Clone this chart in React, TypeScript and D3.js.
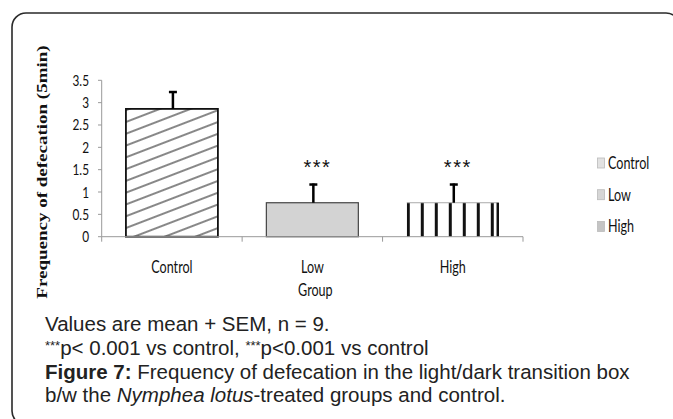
import React, { useEffect, useRef } from "react";
import * as d3 from "d3";

const categories = ["Control", "Low", "High"];
const means = [2.86, 0.76, 0.76];
const sems = [0.4, 0.43, 0.43];
const stars = ["", "***", "***"];
const yTicks = [0, 0.5, 1, 1.5, 2, 2.5, 3, 3.5];
const legendItems = ["Control", "Low", "High"];

const W = 673;
const H = 419;
const chartFont = "Lato, 'Liberation Sans', sans-serif";
const capFont = "'Liberation Sans', Arial, sans-serif";
const squish = 0.74;

const App = () => {
  const ref = useRef<SVGSVGElement>(null);

  useEffect(() => {
    const svg = d3.select(ref.current);
    svg.selectAll("*").remove();

    const x = d3
      .scaleBand()
      .domain(categories)
      .range([101.7, 523])
      .paddingInner(0.345)
      .paddingOuter(0.1725);
    const y = d3.scaleLinear().domain([0, 3.5]).range([236.7, 80.3]);
    const step = x.step();

    const defs = svg.append("defs");
    defs
      .append("pattern")
      .attr("id", "diag")
      .attr("patternUnits", "userSpaceOnUse")
      .attr("width", 40)
      .attr("height", 11)
      .attr("patternTransform", "rotate(-21)")
      .call((p) => {
        p.append("rect").attr("width", 40).attr("height", 11).attr("fill", "#fff");
        p.append("line")
          .attr("x1", 0).attr("x2", 40).attr("y1", 5).attr("y2", 5)
          .attr("stroke", "#111").attr("stroke-width", 1.1);
      });
    defs
      .append("pattern")
      .attr("id", "vert")
      .attr("patternUnits", "userSpaceOnUse")
      .attr("x", x("High")!)
      .attr("width", 14)
      .attr("height", 10)
      .call((p) => {
        p.append("rect").attr("width", 14).attr("height", 10).attr("fill", "#fff");
        p.append("rect").attr("width", 3).attr("height", 10).attr("fill", "#111");
      });

    // frame
    svg
      .append("rect")
      .attr("x", 12)
      .attr("y", 13)
      .attr("width", 668)
      .attr("height", 412)
      .attr("rx", 14)
      .attr("fill", "#fff")
      .attr("stroke", "#2a2a2a")
      .attr("stroke-width", 1.6);

    // y axis
    const gy = svg.append("g");
    gy.append("line")
      .attr("x1", 101.7).attr("x2", 101.7)
      .attr("y1", y(3.5)).attr("y2", y(0))
      .attr("stroke", "#999");
    gy.selectAll(".yt")
      .data(yTicks)
      .enter()
      .append("line")
      .attr("x1", 98).attr("x2", 101.7)
      .attr("y1", (d) => y(d)).attr("y2", (d) => y(d))
      .attr("stroke", "#999");
    gy.selectAll(".yl")
      .data(yTicks)
      .enter()
      .append("text")
      .attr("transform", (d) => `translate(89,${y(d) + 5.5}) scale(${squish},1)`)
      .attr("text-anchor", "end")
      .attr("font-family", chartFont)
      .attr("font-size", 16)
      .attr("fill", "#111")
      .text((d) => String(d));

    // y title
    svg
      .append("text")
      .attr("transform", `translate(47,172) scale(${squish},1) rotate(-90)`)
      .attr("text-anchor", "middle")
      .attr("font-family", "'Liberation Serif', serif")
      .attr("font-weight", "bold")
      .attr("font-size", 19)
      .attr("fill", "#111")
      .text("Frequency of defecation (5min)");

    // bars
    const fills = ["url(#diag)", "#d3d3d3", "url(#vert)"];
    const bars = svg.append("g");
    categories.forEach((c, i) => {
      const bx = x(c)!;
      const bw = x.bandwidth();
      if (i === 2) {
        bars.append("rect")
          .attr("x", bx).attr("y", y(means[i]))
          .attr("width", bw).attr("height", y(0) - y(means[i]))
          .attr("fill", fills[i]);
        bars.append("line")
          .attr("x1", bx).attr("x2", bx + bw)
          .attr("y1", y(means[i])).attr("y2", y(means[i]))
          .attr("stroke", "#aaa");
        bars.append("line")
          .attr("x1", bx + bw - 1).attr("x2", bx + bw - 1)
          .attr("y1", y(means[i])).attr("y2", y(0))
          .attr("stroke", "#111").attr("stroke-width", 2.5);
      } else {
        bars.append("rect")
          .attr("x", bx).attr("y", y(means[i]))
          .attr("width", bw).attr("height", y(0) - y(means[i]))
          .attr("fill", fills[i])
          .attr("stroke", i === 0 ? "#111" : "#444")
          .attr("stroke-width", i === 0 ? 1.8 : 1.2);
      }
      // error bar
      const cx = bx + bw / 2 + 1;
      bars.append("line")
        .attr("x1", cx).attr("x2", cx)
        .attr("y1", y(means[i])).attr("y2", y(means[i] + sems[i]))
        .attr("stroke", "#000").attr("stroke-width", 2.5);
      bars.append("line")
        .attr("x1", cx - 4).attr("x2", cx + 4)
        .attr("y1", y(means[i] + sems[i]) + 1).attr("y2", y(means[i] + sems[i]) + 1)
        .attr("stroke", "#000").attr("stroke-width", 2.5);
      if (stars[i]) {
        bars.append("text")
          .attr("transform", `translate(${cx + 4},${y(means[i] + sems[i]) - 10})`)
          .attr("text-anchor", "middle")
          .attr("font-family", "'Liberation Sans', sans-serif")
          .attr("font-size", 20)
          .attr("letter-spacing", 1.5)
          .attr("fill", "#111")
          .text(stars[i]);
      }
    });

    // x axis
    const gx = svg.append("g");
    gx.append("line")
      .attr("x1", 101.7).attr("x2", 523)
      .attr("y1", y(0)).attr("y2", y(0))
      .attr("stroke", "#999");
    const bounds = [0, 1, 2, 3].map((k) => 101.7 + k * step);
    gx.selectAll(".xt")
      .data(bounds)
      .enter()
      .append("line")
      .attr("x1", (d) => d).attr("x2", (d) => d)
      .attr("y1", y(0)).attr("y2", y(0) + 5)
      .attr("stroke", "#999");
    gx.selectAll(".xl")
      .data(categories)
      .enter()
      .append("text")
      .attr("transform", (d) => `translate(${x(d)! + x.bandwidth() / 2},273) scale(${squish},1)`)
      .attr("text-anchor", "middle")
      .attr("font-family", chartFont)
      .attr("font-size", 17)
      .attr("fill", "#111")
      .text((d) => d);
    gx.append("text")
      .attr("transform", `translate(${(101.7 + 523) / 2 + 3},296) scale(${squish},1)`)
      .attr("text-anchor", "middle")
      .attr("font-family", chartFont)
      .attr("font-size", 17)
      .attr("fill", "#111")
      .text("Group");

    // legend
    const swatch = ["#e2e2e2", "#d6d6d6", "#c4c4c4"];
    const lg = svg.append("g");
    legendItems.forEach((t, i) => {
      const ly = 169 + i * 31.7;
      lg.append("rect")
        .attr("x", 597.5).attr("y", ly - 11)
        .attr("width", 7).attr("height", 10)
        .attr("fill", swatch[i]).attr("stroke", "#bbb").attr("stroke-width", 0.8);
      lg.append("text")
        .attr("transform", `translate(608,${ly}) scale(${squish},1)`)
        .attr("font-family", chartFont)
        .attr("font-size", 17)
        .attr("fill", "#111")
        .text(t);
    });

    // caption
    const cap = svg
      .append("g")
      .attr("font-family", capFont)
      .attr("font-size", 20.5)
      .attr("fill", "#222");
    cap.append("text").attr("x", 45).attr("y", 331).text("Values are mean + SEM, n = 9.");
    const l2 = cap.append("text").attr("x", 45).attr("y", 355);
    l2.append("tspan").attr("font-size", 13).attr("dy", -5).text("***");
    l2.append("tspan").attr("dy", 5).text("p< 0.001 vs control, ");
    l2.append("tspan").attr("font-size", 13).attr("dy", -5).text("***");
    l2.append("tspan").attr("dy", 5).text("p<0.001 vs control");
    const l3 = cap.append("text").attr("x", 45).attr("y", 379);
    l3.append("tspan").attr("font-weight", "bold").text("Figure 7:");
    l3.append("tspan").text(" Frequency of defecation in the light/dark transition box");
    const l4 = cap.append("text").attr("x", 45).attr("y", 402);
    l4.append("tspan").text("b/w the ");
    l4.append("tspan").attr("font-style", "italic").text("Nymphea lotus");
    l4.append("tspan").text("-treated groups and control.");
  }, []);

  return (
    <svg
      ref={ref}
      width={W}
      height={H}
      style={{ position: "absolute", left: 0, top: 0, background: "#fff" }}
    />
  );
};

export default App;
